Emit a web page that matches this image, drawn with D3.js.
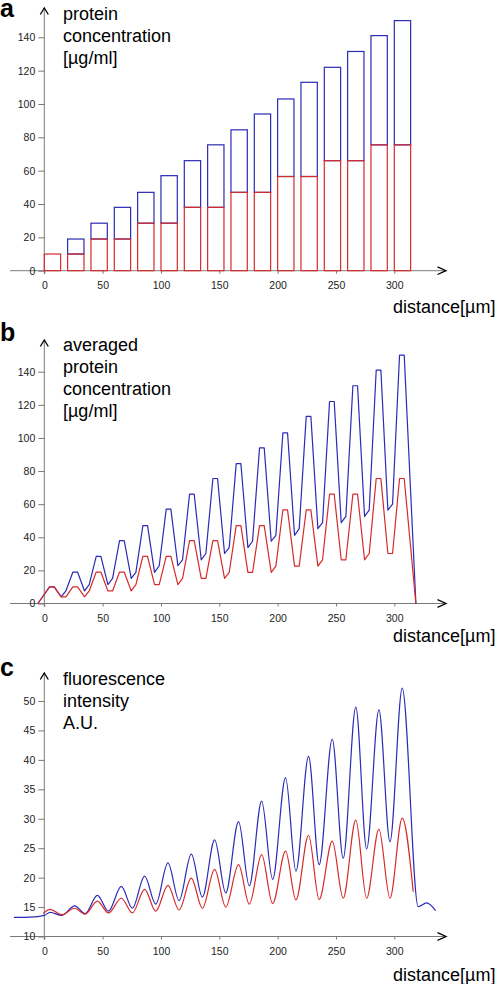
<!DOCTYPE html>
<html>
<head>
<meta charset="utf-8">
<script src="https://cdn.jsdelivr.net/npm/d3@7"></script>
<style>
  html, body { margin: 0; padding: 0; background: #fff; }
  svg { display: block; }
  text { font-family: "Liberation Sans", Arial, sans-serif; }
</style>
</head>
<body>
<svg id="chart" width="496" height="984"></svg>
<script>
// ---------- DATA ----------
// Panel a: bars at distance positions (start of each bar, µm), bar width 14 µm
const barStarts = [0, 20, 40, 60, 80, 100, 120, 140, 160, 180, 200, 220, 240, 260, 280, 300];
const barWidth = 14;
const barBlue = [10, 19, 28.5, 38, 47, 57, 66, 75.5, 84.5, 94, 103, 113, 122, 131.5, 141, 150];
const barRed  = [10, 10, 19, 19, 28.5, 28.5, 38, 38, 47, 47, 56.5, 56.5, 66, 66, 75.5, 75.5];

// Panel b: averaged profile vertices
const avgX = [-5.5,
  4.5, 8.5, 14.5, 18.5, 24.5, 28.5, 34.5, 38.5, 44.5, 48.5, 54.5, 58.5,
  64.5, 68.5, 74.5, 78.5, 84.5, 88.5, 94.5, 98.5, 104.5, 108.5, 114.5, 118.5,
  124.5, 128.5, 134.5, 138.5, 144.5, 148.5, 154.5, 158.5, 164.5, 168.5, 174.5, 178.5,
  184.5, 188.5, 194.5, 198.5, 204.5, 208.5, 214.5, 218.5, 224.5, 228.5, 234.5, 238.5,
  244.5, 248.5, 254.5, 258.5, 264.5, 268.5, 274.5, 278.5, 284.5, 288.5, 294.5, 298.5,
  304.5, 308.5, 318.5];
const avgBlue = [0,
  10, 10, 4, 7.6, 19, 19, 7.6, 11.4, 28.5, 28.5, 11.4, 15.2,
  38, 38, 15.2, 18.8, 47, 47, 18.8, 22.8, 57, 57, 22.8, 26.4,
  66, 66, 26.4, 30.2, 75.5, 75.5, 30.2, 33.8, 84.5, 84.5, 33.8, 37.6,
  94, 94, 37.6, 41.2, 103, 103, 41.2, 45.2, 113, 113, 45.2, 48.8,
  122, 122, 48.8, 52.6, 131.5, 131.5, 52.6, 56.4, 141, 141, 56.4, 60,
  150, 150, 0];
const avgRed = [0,
  10, 10, 4, 4, 10, 10, 4, 7.6, 19, 19, 7.6, 7.6,
  19, 19, 7.6, 11.4, 28.5, 28.5, 11.4, 11.4, 28.5, 28.5, 11.4, 15.2,
  38, 38, 15.2, 15.2, 38, 38, 15.2, 18.8, 47, 47, 18.8, 18.8,
  47, 47, 18.8, 22.6, 56.5, 56.5, 22.6, 22.6, 56.5, 56.5, 22.6, 26.4,
  66, 66, 26.4, 26.4, 66, 66, 26.4, 30.2, 75.5, 75.5, 30.2, 30.2,
  75.5, 75.5, 0];

// Panel c: fluorescence profile (peaks / troughs)
const fluoBlueX = [-26, -12, 0, 5, 15, 26, 35, 45.5, 55, 66, 75.5, 86, 95.5, 106, 115.5, 126, 135.5,
  146, 155.5, 166.5, 175.7, 186.3, 195.7, 206.8, 215.7, 226.5, 235.6, 246.8, 256.2, 267, 276.3,
  286.8, 296.3, 306.8, 320.5, 327.7, 335.4];
const fluoBlueY = [13.25, 13.3, 13.6, 14.1, 13.6, 15.2, 13.9, 17.0, 14.3, 18.5, 14.8, 20.25, 15.5, 22.5, 16.1, 24.0, 16.7,
  26.4, 17.4, 29.5, 18.6, 33.0, 19.7, 37.0, 21.1, 40.6, 22.2, 43.5, 23.3, 48.95, 24.9,
  48.5, 26.1, 52.2, 15.05, 15.7, 14.4];
const fluoRedX = [-1, 5, 15, 26, 35, 45.5, 55, 66, 75.5, 86, 95.5, 106, 115.5, 126, 135.5,
  146, 155.5, 166.5, 175.7, 186.3, 195.7, 206.8, 215.7, 226.5, 235.6, 246.8, 256.2, 267, 276.3,
  286.8, 296.3, 306.8, 316.2];
const fluoRedY = [13.9, 14.6, 13.7, 14.8, 13.8, 16.0, 14.0, 16.5, 14.0, 18.0, 14.3, 18.7, 14.5, 19.9, 14.8,
  21.4, 15.0, 22.2, 15.5, 23.9, 15.6, 24.5, 16.2, 27.2, 16.3, 26.2, 16.5, 29.75, 16.5,
  28.2, 16.5, 30.1, 17.6];

// Tick labels
const xTicks = [0, 50, 100, 150, 200, 250, 300];
const yTicksConc = [0, 20, 40, 60, 80, 100, 120, 140];
const yTicksFluo = [10, 15, 20, 25, 30, 35, 40, 45, 50];

const titleA = ["protein", "concentration", "[µg/ml]"];
const titleB = ["averaged", "protein", "concentration", "[µg/ml]"];
const titleC = ["fluorescence", "intensity", "A.U."];
const xLabel = "distance[µm]";

// ---------- STYLE ----------
const BLUE = "#2b2bb5";
const RED = "#d62b2b";
const AXIS = "#7a7a7a";
const TXT = "#222";

const svg = d3.select("#chart");
svg.append("rect").attr("width", 496).attr("height", 984).attr("fill", "#fff");

const x = d3.scaleLinear().domain([0, 300]).range([44.3, 394.3]);

function frame(cfg) {
  const g = svg.append("g");
  const y = cfg.y;
  const y0 = y(cfg.yTicks[0]);
  // x axis line
  g.append("line").attr("x1", 10).attr("x2", 446).attr("y1", y0).attr("y2", y0)
    .attr("stroke", AXIS).attr("stroke-width", 1);
  // y axis line
  g.append("line").attr("x1", x(0)).attr("x2", x(0)).attr("y1", cfg.top).attr("y2", y0 + 3.5)
    .attr("stroke", AXIS).attr("stroke-width", 1);
  // y ticks via d3 axis
  const yAxis = d3.axisLeft(y).tickValues(cfg.yTicks).tickSize(6).tickPadding(3).tickFormat(d3.format("d"));
  const ya = g.append("g").attr("transform", `translate(${x(0)},0)`).call(yAxis);
  ya.select(".domain").remove();
  ya.selectAll("line").attr("stroke", AXIS);
  ya.selectAll("text").attr("fill", TXT).style("font-size", "10.5px")
    .style("font-family", '"Liberation Sans", Arial, sans-serif');
  // x ticks
  const xAxis = d3.axisBottom(x).tickValues(xTicks).tickSize(3).tickPadding(8).tickFormat(d3.format("d"));
  const xa = g.append("g").attr("transform", `translate(0,${y0})`).call(xAxis);
  xa.select(".domain").remove();
  xa.selectAll("line").attr("stroke", AXIS);
  xa.selectAll("text").attr("fill", TXT).style("font-size", "10.5px")
    .style("font-family", '"Liberation Sans", Arial, sans-serif');
  // arrows
  g.append("path")
    .attr("d", `M${x(0) - 4},${cfg.top + 6.5} L${x(0)},${cfg.top} L${x(0) + 4},${cfg.top + 6.5}`)
    .attr("fill", "none").attr("stroke", "#000").attr("stroke-width", 1.3);
  g.append("path")
    .attr("d", `M437.5,${y0 - 3.8} L446,${y0} L437.5,${y0 + 3.8}`)
    .attr("fill", "none").attr("stroke", "#000").attr("stroke-width", 1.3);
  // panel letter
  g.append("text").attr("x", 0).attr("y", cfg.letterY).text(cfg.letter)
    .style("font-size", "25px").style("font-weight", "bold").attr("fill", "#000");
  // title
  cfg.title.forEach((t, i) => {
    g.append("text").attr("x", 63).attr("y", cfg.titleY + i * 22).text(t)
      .style("font-size", "18px").attr("fill", "#000");
  });
  // x label
  g.append("text").attr("x", 495.5).attr("y", cfg.xLabelY).attr("text-anchor", "end")
    .text(xLabel).style("font-size", "18px").attr("fill", "#000");
  return g;
}

// ---------- PANEL A ----------
const yA = d3.scaleLinear().domain([0, 140]).range([270.7, 37.3]);
const gA = frame({ y: yA, yTicks: yTicksConc, top: 8, letter: "a", letterY: 17, title: titleA, titleY: 20, xLabelY: 313 });
const barsData = barStarts.map((s, i) => ({ s, b: barBlue[i], r: barRed[i] }));
gA.selectAll(".bb").data(barsData.filter(d => d.b > d.r)).join("rect")
  .attr("x", d => x(d.s)).attr("width", d => x(d.s + barWidth) - x(d.s))
  .attr("y", d => yA(d.b)).attr("height", d => yA(d.r) - yA(d.b))
  .attr("fill", "none").attr("stroke", BLUE).attr("stroke-width", 1.2);
gA.selectAll(".rb").data(barsData).join("rect")
  .attr("x", d => x(d.s)).attr("width", d => x(d.s + barWidth) - x(d.s))
  .attr("y", d => yA(d.r)).attr("height", d => yA(0) - yA(d.r))
  .attr("fill", "none").attr("stroke", RED).attr("stroke-width", 1.2);

// ---------- PANEL B ----------
const yB = d3.scaleLinear().domain([0, 140]).range([603.5, 371.7]);
const gB = frame({ y: yB, yTicks: yTicksConc, top: 340, letter: "b", letterY: 340.5, title: titleB, titleY: 351, xLabelY: 642 });
const lineB = d3.line().x(d => x(d[0])).y(d => yB(d[1]));
gB.append("path").datum(avgX.map((v, i) => [v, avgBlue[i]])).attr("d", lineB)
  .attr("fill", "none").attr("stroke", BLUE).attr("stroke-width", 1.2).attr("stroke-linejoin", "round");
gB.append("path").datum(avgX.map((v, i) => [v, avgRed[i]])).attr("d", lineB)
  .attr("fill", "none").attr("stroke", RED).attr("stroke-width", 1.2).attr("stroke-linejoin", "round");

// ---------- PANEL C ----------
const yC = d3.scaleLinear().domain([10, 50]).range([936.5, 701]);
const gC = frame({ y: yC, yTicks: yTicksFluo, top: 673, letter: "c", letterY: 675.5, title: titleC, titleY: 684.5, xLabelY: 981 });
const lineC = d3.line().x(d => x(d[0])).y(d => yC(d[1])).curve(d3.curveMonotoneX);
gC.append("path").datum(fluoBlueX.map((v, i) => [v, fluoBlueY[i]])).attr("d", lineC)
  .attr("fill", "none").attr("stroke", BLUE).attr("stroke-width", 1.2);
gC.append("path").datum(fluoRedX.map((v, i) => [v, fluoRedY[i]])).attr("d", lineC)
  .attr("fill", "none").attr("stroke", RED).attr("stroke-width", 1.2);
</script>
</body>
</html>
